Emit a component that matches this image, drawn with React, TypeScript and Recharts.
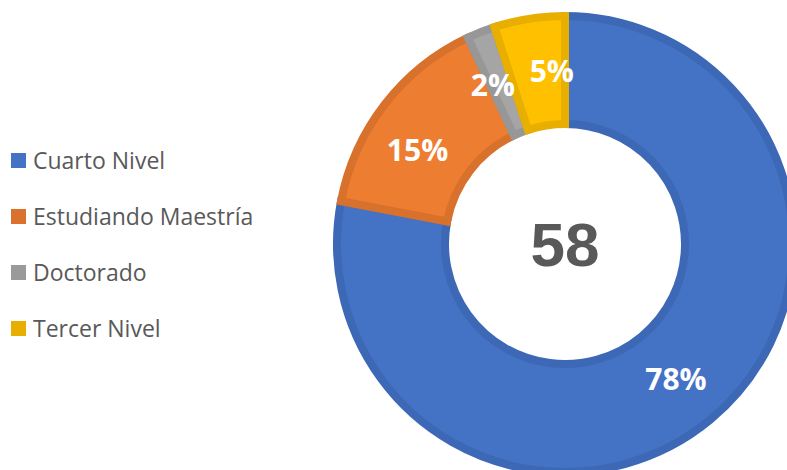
import React from 'react';
import { PieChart, Pie, Cell, Legend } from 'recharts';

const categories = ['Cuarto Nivel', 'Estudiando Maestría', 'Doctorado', 'Tercer Nivel'];
const values = [78, 15, 2, 5];
const fills = ['#4472C4', '#ED7D31', '#A5A5A5', '#FFC000'];
const strokes = ['#3D68B6', '#D7712C', '#979797', '#E8AE00'];
const legendColors = ['#4472C4', '#DA722D', '#9A9A9A', '#E8AE00'];
const totalLabel = '58';

// small label nudges (style only) to avoid overlap of the narrow slices
const labelNudgeX = [0, -10, -8, 14];
const labelNudgeY = [0, 12, 2, -2];

const data = categories.map((name, i) => ({ name, value: values[i] }));

const RAD = Math.PI / 180;

const renderLabel = (props: any) => {
  const { cx, cy, midAngle, innerRadius, outerRadius, value, index } = props;
  const r = (innerRadius + outerRadius) / 2;
  const x = cx + r * Math.cos(-midAngle * RAD) + labelNudgeX[index];
  const y = cy + r * Math.sin(-midAngle * RAD) + labelNudgeY[index];
  return (
    <text
      x={x}
      y={y}
      fill="#FFFFFF"
      textAnchor="middle"
      dominantBaseline="central"
      fontFamily="'Open Sans', sans-serif"
      fontWeight={700}
      fontSize={30}
    >
      {`${value}%`}
    </text>
  );
};

const renderLegend = () => (
  <div style={{ fontFamily: "'Open Sans', sans-serif", fontSize: 23, color: '#595959' }}>
    {categories.map((c, i) => (
      <div key={c} style={{ display: 'flex', alignItems: 'center', height: 56 }}>
        <span style={{ display: 'inline-block', width: 15, height: 15, background: legendColors[i], marginRight: 7 }} />
        <span>{c}</span>
      </div>
    ))}
  </div>
);

export default function App() {
  return (
    <div style={{ position: 'absolute', left: 0, top: 0, width: 787, height: 470, overflow: 'hidden', background: '#fff' }}>
      <PieChart width={787} height={470} margin={{ top: 0, right: 0, bottom: 0, left: 0 }}>
        <Pie
          data={data}
          dataKey="value"
          nameKey="name"
          cx={565}
          cy={244}
          innerRadius={120}
          outerRadius={228}
          startAngle={90}
          endAngle={-270}
          stroke="none"
          label={renderLabel}
          labelLine={false}
          isAnimationActive={false}
        >
          {data.map((d, i) => (
            <Cell key={d.name} fill={fills[i]} stroke={strokes[i]} strokeWidth={8} />
          ))}
        </Pie>
        <text
          x={565}
          y={244}
          textAnchor="middle"
          dominantBaseline="central"
          fontFamily="'Liberation Sans', Arial, sans-serif"
          fontWeight={700}
          fontSize={62}
          fill="#595959"
        >
          {totalLabel}
        </text>
        <Legend
          content={renderLegend}
          wrapperStyle={{ position: 'absolute', left: 11, top: 132, width: 320 }}
        />
      </PieChart>
    </div>
  );
}
